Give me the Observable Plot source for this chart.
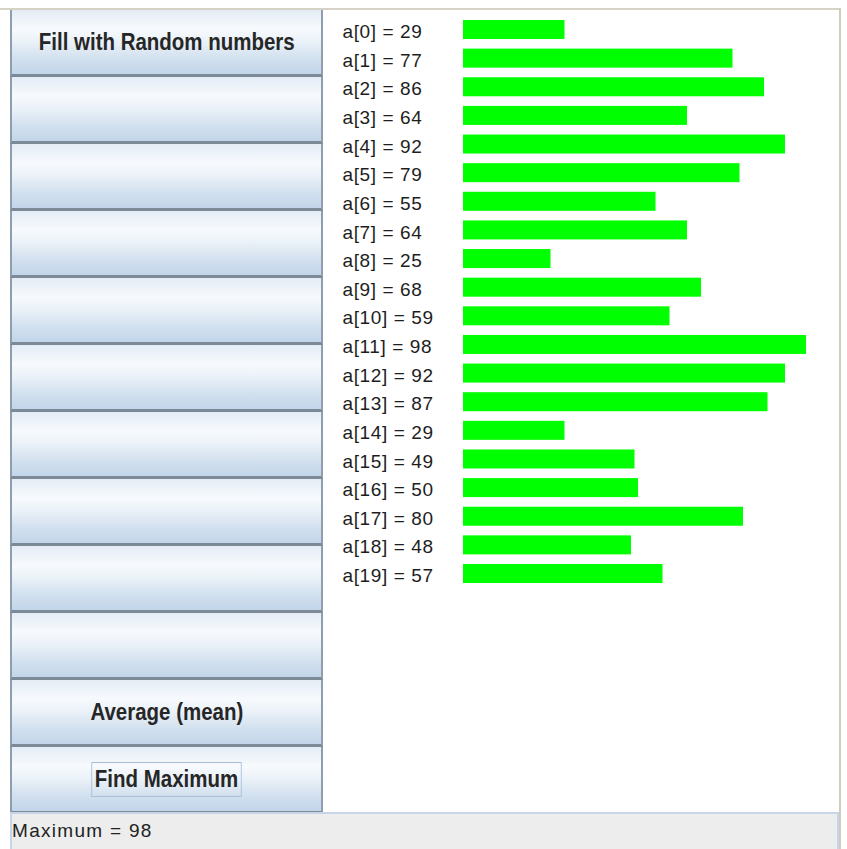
<!DOCTYPE html>
<html>
<head>
<meta charset="utf-8">
<script src="https://cdn.jsdelivr.net/npm/d3@7"></script>
<script src="https://cdn.jsdelivr.net/npm/@observablehq/plot@0.6"></script>
<style>
  html, body { margin: 0; padding: 0; background: #ffffff; }
  #app { position: relative; width: 847px; height: 849px; overflow: hidden; font-family: "Liberation Sans", Arial, sans-serif; }
  #frameTop { position: absolute; left: 0; top: 8px; width: 841px; height: 2px; background: #d6d2c6; }
  #frameRight { position: absolute; left: 839px; top: 8px; width: 2px; height: 841px; background: #cfcbbf; }
  #buttons { position: absolute; left: 10px; top: 10px; width: 313px; }
  .btn { position: relative; box-sizing: border-box; width: 313px; height: 67px;
         border-left: 2px solid #8d9eb1; border-right: 2px solid #8d9eb1; border-bottom: 3px solid #7c8a98;
         background: linear-gradient(to bottom, #e4ecf6 0%, #f7fafd 30%, #eaf1f8 50%, #d3e1ef 75%, #c2d5e9 100%);
         display: flex; align-items: center; justify-content: center; }
  .btn span { font-weight: bold; font-size: 23px; color: #262626; display: inline-block; transform: scaleX(0.89); white-space: nowrap; }
  .btn.focus span { outline: 1px solid #a9bfd8; outline-offset: 3px; }
  #chart { position: absolute; left: 325px; top: 10px; width: 514px; height: 802px; background: #ffffff; }
  #status { position: absolute; left: 10px; top: 812px; width: 829px; height: 37px; box-sizing: border-box;
            background: #ededed; border-top: 2px solid #c6d5e7; border-left: 2px solid #c6d5e7; border-right: 2px solid #c6d5e7;
            font-size: 19px; letter-spacing: 1.3px; color: #222; padding-left: 0px; line-height: 33px; }
</style>
</head>
<body>
<div id="app">
  <div id="frameTop"></div>
  <div id="frameRight"></div>
  <div id="buttons"></div>
  <div id="chart"></div>
  <div id="status"></div>
</div>
<script>
// Array values shown in the bar panel
const values = [29, 77, 86, 64, 92, 79, 55, 64, 25, 68, 59, 98, 92, 87, 29, 49, 50, 80, 48, 57];
const indices = values.map((v, i) => i);
// Button captions (blank buttons have no text)
const buttonLabels = ["Fill with Random numbers", "", "", "", "", "", "", "", "", "", "Average (mean)", "Find Maximum"];
const statusText = "Maximum = 98";

const rows = indices.map(i => ({index: i, value: values[i], label: `a[${i}] = ${values[i]}`}));

// Buttons
const btnBox = document.getElementById("buttons");
buttonLabels.forEach((t, i) => {
  const b = document.createElement("div");
  b.className = "btn" + (i === buttonLabels.length - 1 ? " focus" : "");
  if (t) { const s = document.createElement("span"); s.textContent = t; b.appendChild(s); }
  btnBox.appendChild(b);
});

document.getElementById("status").textContent = statusText;

const chart = Plot.plot({
  width: 514,
  height: 802,
  marginLeft: 138,
  marginRight: 26,
  marginTop: 10,
  marginBottom: 229,
  style: {background: "#ffffff", fontFamily: "'Liberation Sans', Arial, sans-serif", fontSize: "19px", letterSpacing: "0.6px", color: "#222"},
  x: {domain: [0, 100], axis: null},
  y: {type: "band", domain: indices, paddingInner: 0.336, paddingOuter: 0, round: false, axis: null},
  marks: [
    Plot.barX(rows, {x: "value", y: "index", fill: "#00ff00"}),
    Plot.text(rows, {y: "index", text: "label", frameAnchor: "left", dx: -121, dy: 2, textAnchor: "start", fill: "#1e1e1e", fontSize: 19})
  ]
});
document.getElementById("chart").appendChild(chart);
</script>
</body>
</html>
